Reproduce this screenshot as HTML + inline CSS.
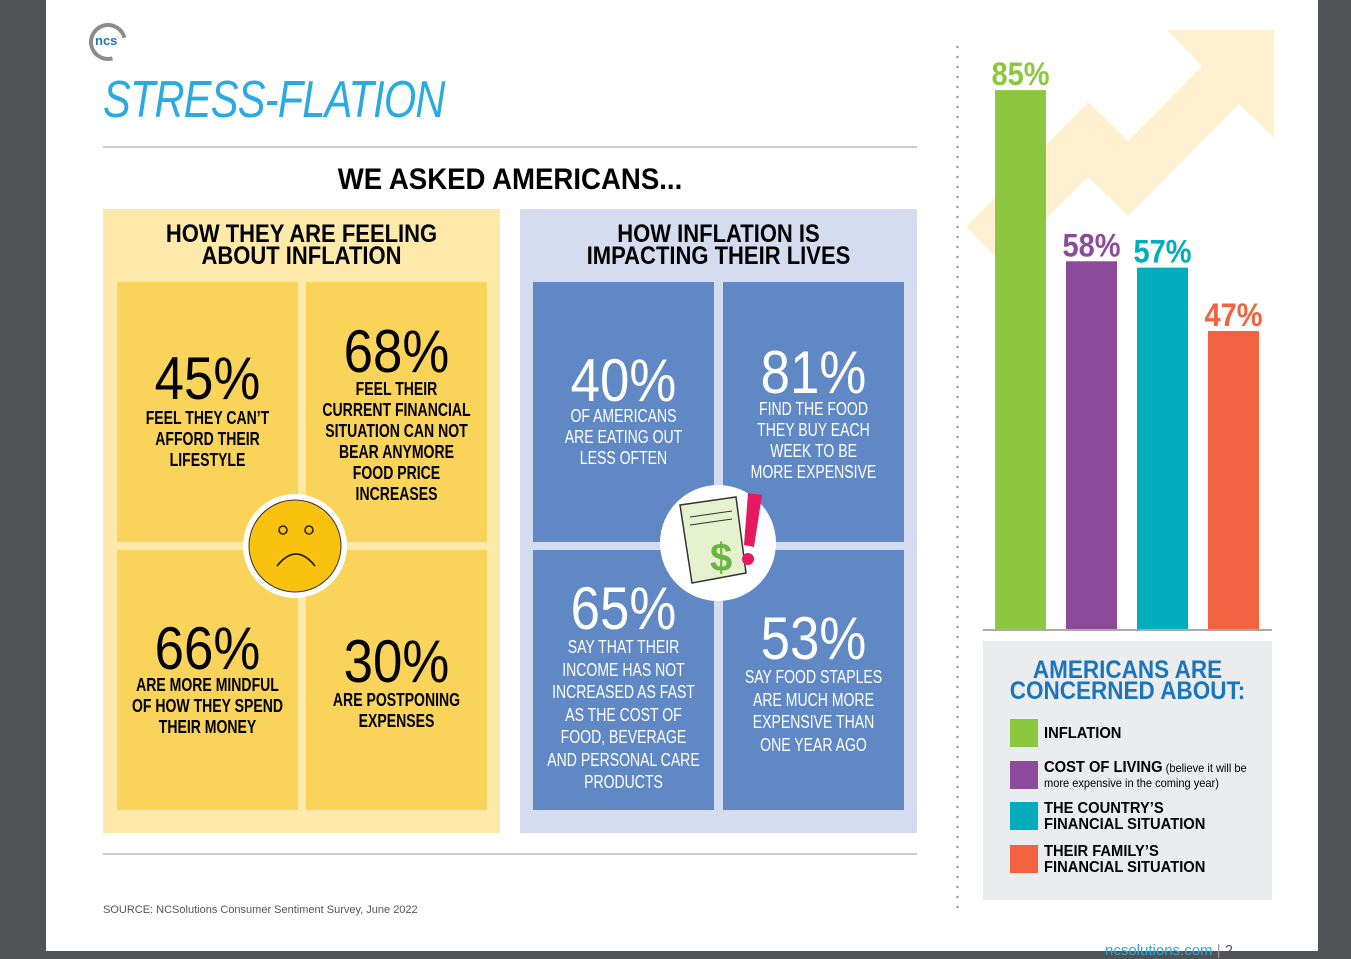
<!DOCTYPE html>
<html><head><meta charset="utf-8">
<style>
*{margin:0;padding:0;box-sizing:border-box}
body{width:1351px;height:951px;background:#505356;position:relative;overflow:hidden;font-family:"Liberation Sans",sans-serif}
#page{position:absolute;left:46px;top:0;width:1272px;height:951px;background:#fff}
.abs{position:absolute}
.c{position:absolute;text-align:center;transform-origin:center top}
.big{font-size:60px;line-height:60px;font-weight:normal;transform:scaleX(.88)}
.txt{font-size:18px;line-height:21px;font-weight:bold;transform:scaleX(.78)}
.box{position:absolute}
.lg{transform:scaleX(.92);transform-origin:left top}
</style></head><body>
<div id="page"></div>

<div class="abs" style="left:89px;top:23px;width:38px;height:38px;border:4px solid #8c8c8c;border-right-color:transparent;border-radius:50%;transform:rotate(30deg)"></div>
<div class="abs" style="left:95px;top:33px;font-size:13px;color:#1b75bb;font-weight:bold">ncs</div>

<div class="abs" style="left:103px;top:70px;font-size:52px;font-style:italic;color:#29abe2;transform:scaleX(.8);transform-origin:left top;letter-spacing:-1px">STRESS-FLATION</div>
<div class="abs" style="left:103px;top:146px;width:814px;height:2px;background:#ccc"></div>
<div class="c" style="left:260px;width:500px;top:163px;font-size:30px;font-weight:bold;transform:scaleX(.92)">WE ASKED AMERICANS...</div>

<div class="box" style="left:103px;top:209px;width:397px;height:624px;background:#fdeaaa"></div>
<div class="c" style="left:103px;width:397px;top:223px;font-size:25px;line-height:22px;font-weight:bold;transform:scaleX(.88)">HOW THEY ARE FEELING<br>ABOUT INFLATION</div>
<div class="box" style="left:117px;top:282px;width:181px;height:260px;background:#f9d35a"></div>
<div class="box" style="left:306px;top:282px;width:181px;height:260px;background:#f9d35a"></div>
<div class="box" style="left:117px;top:550px;width:181px;height:260px;background:#f9d35a"></div>
<div class="box" style="left:306px;top:550px;width:181px;height:260px;background:#f9d35a"></div>

<div class="c big" style="left:117px;width:181px;top:349px">45%</div>
<div class="c txt" style="left:97px;width:221px;top:408px">FEEL THEY CAN’T<br>AFFORD THEIR<br>LIFESTYLE</div>
<div class="c big" style="left:306px;width:181px;top:322px">68%</div>
<div class="c txt" style="left:276px;width:241px;top:379px">FEEL THEIR<br>CURRENT FINANCIAL<br>SITUATION CAN NOT<br>BEAR ANYMORE<br>FOOD PRICE<br>INCREASES</div>
<div class="c big" style="left:117px;width:181px;top:619px">66%</div>
<div class="c txt" style="left:87px;width:241px;top:675px">ARE MORE MINDFUL<br>OF HOW THEY SPEND<br>THEIR MONEY</div>
<div class="c big" style="left:306px;width:181px;top:632px">30%</div>
<div class="c txt" style="left:276px;width:241px;top:690px">ARE POSTPONING<br>EXPENSES</div>

<svg class="abs" style="left:243px;top:494px" width="104" height="104">
<circle cx="52" cy="52" r="52" fill="#fff"/><circle cx="52" cy="52" r="46" fill="#f8c20f" stroke="#333" stroke-width="1"/>
<circle cx="40" cy="36" r="4" fill="none" stroke="#222" stroke-width="1.5"/><circle cx="66" cy="36" r="4" fill="none" stroke="#222" stroke-width="1.5"/>
<path d="M34 72 Q53 48 72 72" fill="none" stroke="#222" stroke-width="1.8"/></svg>

<div class="box" style="left:520px;top:209px;width:397px;height:624px;background:#d5dcf0"></div>
<div class="c" style="left:520px;width:397px;top:223px;font-size:25px;line-height:22px;font-weight:bold;transform:scaleX(.88)">HOW INFLATION IS<br>IMPACTING THEIR LIVES</div>
<div class="box" style="left:533px;top:282px;width:181px;height:260px;background:#5f88c5"></div>
<div class="box" style="left:723px;top:282px;width:181px;height:260px;background:#5f88c5"></div>
<div class="box" style="left:533px;top:550px;width:181px;height:260px;background:#5f88c5"></div>
<div class="box" style="left:723px;top:550px;width:181px;height:260px;background:#5f88c5"></div>

<div class="c big" style="left:533px;width:181px;top:351px;color:#fff">40%</div>
<div class="c txt" style="left:503px;width:241px;top:406px;color:#fff;font-weight:normal">OF AMERICANS<br>ARE EATING OUT<br>LESS OFTEN</div>
<div class="c big" style="left:723px;width:181px;top:343px;color:#fff">81%</div>
<div class="c txt" style="left:693px;width:241px;top:399px;color:#fff;font-weight:normal">FIND THE FOOD<br>THEY BUY EACH<br>WEEK TO BE<br>MORE EXPENSIVE</div>
<div class="c big" style="left:533px;width:181px;top:579px;color:#fff">65%</div>
<div class="c txt" style="left:493px;width:261px;top:636px;color:#fff;font-weight:normal;line-height:22.5px">SAY THAT THEIR<br>INCOME HAS NOT<br>INCREASED AS FAST<br>AS THE COST OF<br>FOOD, BEVERAGE<br>AND PERSONAL CARE<br>PRODUCTS</div>
<div class="c big" style="left:723px;width:181px;top:609px;color:#fff">53%</div>
<div class="c txt" style="left:693px;width:241px;top:666px;color:#fff;font-weight:normal;line-height:22.5px">SAY FOOD STAPLES<br>ARE MUCH MORE<br>EXPENSIVE THAN<br>ONE YEAR AGO</div>

<svg class="abs" style="left:660px;top:485px" width="116" height="116">
<circle cx="58" cy="58" r="58" fill="#fff"/>
<polygon points="20,20 76,12 86,88 32,98" fill="#e6f2cf" stroke="#333" stroke-width="1.5"/>
<line x1="30" y1="32" x2="72" y2="26" stroke="#333"/><line x1="30" y1="40" x2="72" y2="34" stroke="#333"/>
<text x="50" y="86" font-size="40" font-weight="bold" fill="#6cb33f" font-family="Liberation Sans">$</text>
<polygon points="88,8 102,10 94,62 84,60" fill="#e5195f"/><circle cx="88" cy="74" r="6" fill="#e5195f"/>
</svg>

<div class="abs" style="left:103px;top:853px;width:814px;height:2px;background:#ccc"></div>
<div class="abs" style="left:103px;top:904px;font-size:11px;color:#555">SOURCE: NCSolutions Consumer Sentiment Survey, June 2022</div>
<div class="abs" style="left:1105px;top:942px;font-size:15px;color:#29abe2">ncsolutions.com <span style="color:#999">|</span> <span style="color:#555">2</span></div>

<div class="abs" style="left:956px;top:42px;width:3px;height:874px;background:radial-gradient(circle,#999 1px,transparent 1.5px) 0 0/3px 10px"></div>

<svg class="abs" style="left:940px;top:0" width="378" height="951" id="chart">
<polygon points="26,227 148,102 188,141 262,66 227,30 334,30 334,138 299,104 188,216 148,177 62,263" fill="#fff1cf"/>
</svg>

<div class="box" style="left:983px;top:641px;width:289px;height:259px;background:#ebecee"></div>
<div class="c" style="left:983px;width:289px;top:660px;font-size:25px;line-height:21px;font-weight:bold;color:#1b75bb;transform:scaleX(.9)">AMERICANS ARE<br>CONCERNED ABOUT:</div>
<div class="abs" style="left:1010px;top:719px;width:28px;height:28px;background:#8dc63f"></div>
<div class="abs lg" style="left:1044px;top:725px;font-size:16px;font-weight:bold">INFLATION</div>
<div class="abs" style="left:1010px;top:761px;width:28px;height:28px;background:#8b4a9a"></div>
<div class="abs lg" style="left:1044px;top:760px;font-size:12px;line-height:15px;width:235px"><b style="font-size:16px">COST OF LIVING</b> (believe it will be more expensive in the coming year)</div>
<div class="abs" style="left:1010px;top:802px;width:28px;height:28px;background:#00adbb"></div>
<div class="abs lg" style="left:1044px;top:801px;font-size:16px;line-height:16px;font-weight:bold">THE COUNTRY’S<br>FINANCIAL SITUATION</div>
<div class="abs" style="left:1010px;top:845px;width:28px;height:28px;background:#f26140"></div>
<div class="abs lg" style="left:1044px;top:844px;font-size:16px;line-height:16px;font-weight:bold">THEIR FAMILY’S<br>FINANCIAL SITUATION</div>

<script>
const categories = ["inflation","cost-of-living","country","family"];
const values = [85,58,57,47];
const labels = ["85%","58%","57%","47%"];
const colors = ["#8dc63f","#8b4a9a","#00adbb","#f26140"];
const svg = document.getElementById('chart');
const NS = "http://www.w3.org/2000/svg";
const baseY = 629, pxPer = 6.34;
function yScale(v){ return baseY - v*pxPer; }
function xScale(i){ return 55 + i*71; }
values.forEach((v,i)=>{
  const r = document.createElementNS(NS,'rect');
  r.setAttribute('x', xScale(i)); r.setAttribute('y', yScale(v));
  r.setAttribute('width', 51); r.setAttribute('height', baseY - yScale(v));
  r.setAttribute('fill', colors[i]);
  
  
  svg.appendChild(r);
  const t = document.createElementNS(NS,'text');
  t.setAttribute('x', xScale(i)+25.5); t.setAttribute('y', yScale(v)-5);
  t.setAttribute('text-anchor','middle'); t.setAttribute('font-size','32');
  t.setAttribute('font-weight','bold'); t.setAttribute('font-family','Liberation Sans, sans-serif');
  t.setAttribute('fill', colors[i]);
  t.setAttribute('textLength','58'); t.setAttribute('lengthAdjust','spacingAndGlyphs');
  t.textContent = labels[i];
  
  
  svg.appendChild(t);
});
const base = document.createElementNS(NS,'line');
base.setAttribute('x1',43); base.setAttribute('x2',332); base.setAttribute('y1',baseY+1); base.setAttribute('y2',baseY+1);
base.setAttribute('stroke','#aaa'); base.setAttribute('stroke-width','2');


svg.appendChild(base);
</script>
</body></html>
